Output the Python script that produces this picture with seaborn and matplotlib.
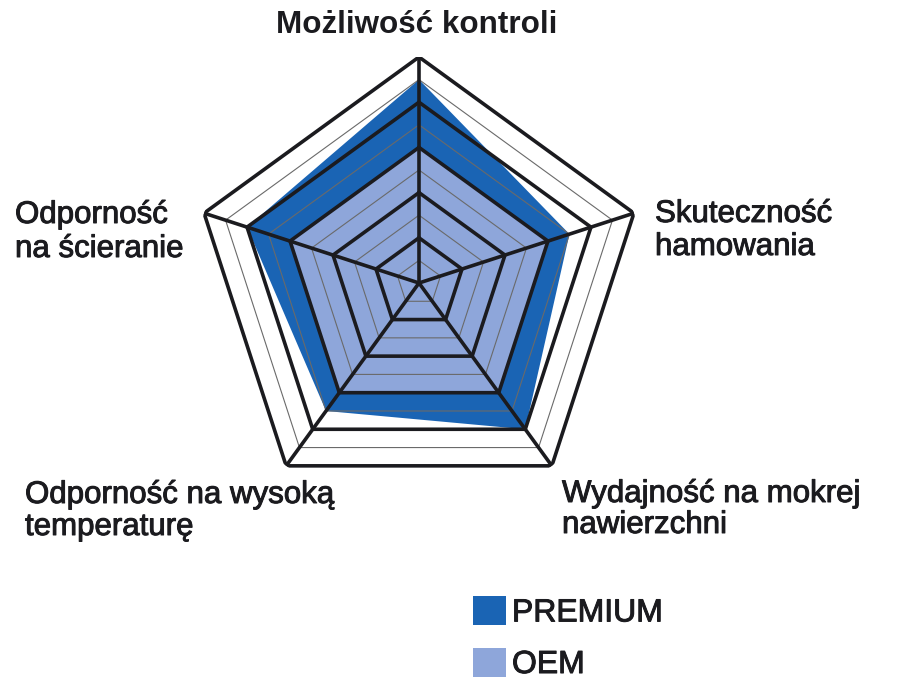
import numpy as np
import matplotlib
matplotlib.use("Agg")
import matplotlib.pyplot as plt
import matplotlib.patheffects as pe
import seaborn as sns

# ---- data ----
categories = ["Możliwość kontroli", "Skuteczność\nhamowania",
              "Wydajność na mokrej\nnawierzchni",
              "Odporność na wysoką\ntemperaturę", "Odporność\nna ścieranie"]
premium = [9, 7, 8, 7, 8]
oem = [6, 6, 6, 6, 6]
series_names = ["PREMIUM", "OEM"]
levels = [1, 2, 3, 4, 5, 6, 7, 8, 9, 10]

sns.set_style("white")
plt.rcParams['font.family'] = ['Liberation Sans', 'DejaVu Sans']

PREMIUM_C = "#1a64b4"
OEM_C = "#8ea6da"
INK = "#1b1b1f"

W, H = 908, 695
fig = plt.figure(figsize=(W / 100, H / 100), dpi=100)
cx, cy, R = 419, 283, 226
ax = fig.add_axes([(cx - R) / W, (H - cy - R) / H, 2 * R / W, 2 * R / H],
                  projection="polar")
ax.set_theta_offset(np.pi / 2)
ax.set_theta_direction(-1)

n = len(categories)
theta = np.linspace(0, 2 * np.pi, n, endpoint=False)
closed = np.append(theta, theta[0])

h1 = ax.fill(closed, premium + premium[:1], color=PREMIUM_C, lw=0,
             zorder=1, label=series_names[0])[0]
h2 = ax.fill(closed, oem + oem[:1], color=OEM_C, lw=0,
             zorder=2, label=series_names[1])[0]

for lv in levels:
    if lv % 2 == 0:
        ax.plot(closed, [lv] * (n + 1), color=INK, lw=2.6, zorder=4,
                solid_joinstyle="miter")
    else:
        ax.plot(closed, [lv] * (n + 1), color="#6a6a6a", lw=0.8, zorder=3)
for t in theta:
    ax.plot([t, t], [0, levels[-1]], color=INK, lw=2.6, zorder=4)

ax.set_ylim(0, levels[-1])
ax.set_xticks([])
ax.set_yticks([])
ax.grid(False)
ax.spines["polar"].set_visible(False)
ax.set_facecolor("none")

# ---- axis labels (pixel positions of first-line baselines) ----
stroke = [pe.withStroke(linewidth=0.7, foreground=INK)]
label_pos = [(417, 33, "center", True), (655, 222, "left", False),
             (562, 502, "left", False), (25, 503, "left", False),
             (15, 223, "left", False)]
line_gap = [0, 33, 31, 32, 34]
for cat, (x, y, ha, bold), gap in zip(categories, label_pos, line_gap):
    for i, line in enumerate(cat.split("\n")):
        if bold:
            fig.text(x / W, 1 - (y + i * gap) / H, line, ha=ha, va="baseline",
                     fontsize=22.6, fontweight="bold", color=INK)
        else:
            fig.text(x / W, 1 - (y + i * gap) / H, line, ha=ha, va="baseline",
                     fontsize=22.5, color=INK, path_effects=stroke)

leg = fig.legend(handles=[h1, h2], labels=series_names, loc="upper left",
                 bbox_to_anchor=(473 / W, 1 - 596 / H), frameon=False,
                 fontsize=23, handlelength=1.02, handleheight=1.02,
                 handletextpad=0.2, labelspacing=0.6, borderpad=0,
                 borderaxespad=0)
for txt in leg.get_texts():
    txt.set_color(INK)
    txt.set_path_effects(stroke)

fig.savefig("out.png", dpi=100)
